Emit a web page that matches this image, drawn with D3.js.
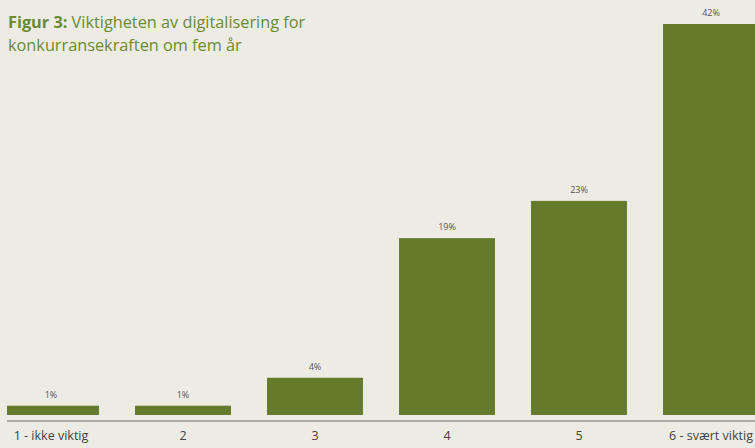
<!DOCTYPE html>
<html>
<head>
<meta charset="utf-8">
<script src="https://cdn.jsdelivr.net/npm/d3@7"></script>
<style>
  html, body { margin: 0; padding: 0; background: #ecebe4; }
  svg { display: block; }
</style>
</head>
<body>
<svg id="chart" width="755" height="448"></svg>
<script>
const categories = ["1 - ikke viktig", "2", "3", "4", "5", "6 - svært viktig"];
const values = [1, 1, 4, 19, 23, 42];
const valueLabels = ["1%", "1%", "4%", "19%", "23%", "42%"];

const W = 755, H = 448;
const svg = d3.select("#chart");
const green = "#657b2b";

svg.append("rect").attr("width", W).attr("height", H).attr("fill", "#ecebe4");

const x = d3.scaleBand()
  .domain(categories)
  .range([-15, 777])
  .paddingInner(0.273)
  .paddingOuter(0.1365);

const y = d3.scaleLinear().domain([0, 42]).range([415, 24]);

svg.append("defs").append("clipPath").attr("id", "plotclip")
  .append("rect").attr("x", 7).attr("y", 0).attr("width", W - 7).attr("height", H);

const plot = svg.append("g").attr("clip-path", "url(#plotclip)");

plot.selectAll("rect.bar")
  .data(values)
  .join("rect")
  .attr("class", "bar")
  .attr("x", (d, i) => x(categories[i]))
  .attr("width", x.bandwidth())
  .attr("y", d => y(d))
  .attr("height", d => y(0) - y(d))
  .attr("fill", green);

svg.selectAll("text.val")
  .data(values)
  .join("text")
  .attr("class", "val")
  .attr("x", (d, i) => x(categories[i]) + x.bandwidth() / 2)
  .attr("y", d => y(d) - 8)
  .attr("text-anchor", "middle")
  .attr("font-family", "'Open Sans', 'Noto Sans', sans-serif")
  .attr("font-size", 9)
  .attr("fill", "#555")
  .text((d, i) => valueLabels[i]);

// x axis
const axis = svg.append("g").attr("transform", "translate(0,421)")
  .call(d3.axisBottom(x).tickSize(0).tickPadding(10));
axis.select(".domain").remove();
axis.append("line").attr("x1", 7).attr("x2", W).attr("y1", 0).attr("y2", 0)
  .attr("stroke", "#6d6d6d").attr("stroke-width", 1.2);
axis.selectAll(".tick text")
  .attr("font-family", "'Open Sans', 'Noto Sans', sans-serif")
  .attr("font-size", 12.5)
  .attr("fill", "#444");

// title
const title = svg.append("text")
  .attr("x", 8).attr("y", 28)
  .attr("font-family", "'Open Sans', 'Noto Sans', sans-serif")
  .attr("font-size", 16.3)
  .attr("fill", "#6b8a36");
title.append("tspan").attr("font-weight", "bold").text("Figur 3: ");
title.append("tspan").text("Viktigheten av digitalisering for");
svg.append("text")
  .attr("x", 8).attr("y", 51)
  .attr("font-family", "'Open Sans', 'Noto Sans', sans-serif")
  .attr("font-size", 16.3)
  .attr("fill", "#6b8a36")
  .text("konkurransekraften om fem år");
</script>
</body>
</html>
